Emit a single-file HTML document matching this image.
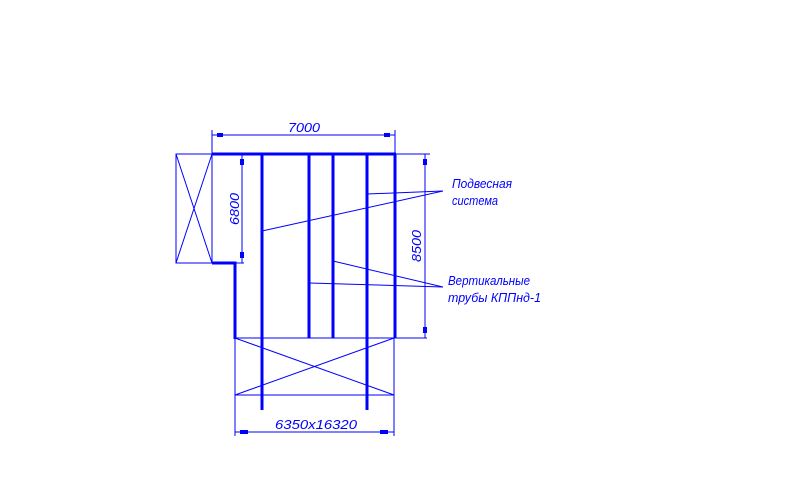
<!DOCTYPE html>
<html><head><meta charset="utf-8"><style>
html,body{margin:0;padding:0;background:#fff;}
svg{display:block}
text{font-family:"Liberation Sans",sans-serif;font-style:italic;fill:#0000ff;font-size:13px;}
</style></head><body>
<svg width="791" height="504" viewBox="0 0 791 504" xmlns="http://www.w3.org/2000/svg">
<g stroke="#0000ff" fill="none" stroke-width="1">
<!-- left box -->
<rect x="176" y="154" width="36" height="109"/>
<line x1="176" y1="154" x2="212" y2="263"/>
<line x1="212" y1="154" x2="176" y2="263"/>
<!-- lower box -->
<line x1="235" y1="338" x2="427" y2="338"/>
<line x1="235" y1="395" x2="394" y2="395"/>
<line x1="235" y1="338" x2="394" y2="395"/>
<line x1="394" y1="338" x2="235" y2="395"/>
<line x1="235" y1="338" x2="235" y2="436"/>
<line x1="394" y1="338" x2="394" y2="436"/>
<!-- top dim -->
<line x1="212" y1="130" x2="212" y2="154"/>
<line x1="395" y1="130" x2="395" y2="154"/>
<line x1="212" y1="135" x2="395" y2="135"/>
<!-- bottom dim -->
<line x1="235" y1="432" x2="394" y2="432"/>
<!-- 6800 -->
<line x1="242" y1="154" x2="242" y2="263"/>
<line x1="212" y1="263" x2="244" y2="263"/>
<!-- 8500 -->
<line x1="395" y1="154" x2="430" y2="154"/>
<line x1="425" y1="154" x2="425" y2="338"/>
<!-- leaders -->
<line x1="443" y1="191" x2="367" y2="194"/>
<line x1="443" y1="191" x2="262" y2="231"/>
<line x1="443" y1="287" x2="333" y2="261"/>
<line x1="443" y1="287" x2="309" y2="283"/>
</g>
<g stroke="#0000ff" stroke-width="3" fill="none">
<line x1="212" y1="154" x2="396" y2="154"/>
<polyline points="212,263 235,263 235,339"/>
<line x1="395" y1="154" x2="395" y2="338"/>
<line x1="262" y1="154" x2="262" y2="410"/>
<line x1="309" y1="154" x2="309" y2="338"/>
<line x1="333" y1="154" x2="333" y2="338"/>
<line x1="367" y1="154" x2="367" y2="410"/>
</g>
<g fill="#0000ff">
<rect x="217" y="133" width="6" height="4"/><rect x="384" y="133" width="6" height="4"/>
<rect x="240" y="432" width="8" height="4" transform="translate(0,-2)"/><rect x="380" y="430" width="8" height="4"/>
<rect x="240" y="159" width="4" height="6"/><rect x="240" y="252" width="4" height="6"/>
<rect x="423" y="159" width="4" height="6"/><rect x="423" y="327" width="4" height="6"/>
</g>
<text x="288" y="132" textLength="32" lengthAdjust="spacingAndGlyphs">7000</text>
<text x="275" y="429" textLength="82" lengthAdjust="spacingAndGlyphs">6350x16320</text>
<text transform="translate(239,225) rotate(-90)" textLength="32" lengthAdjust="spacingAndGlyphs">6800</text>
<text transform="translate(421,262) rotate(-90)" textLength="32" lengthAdjust="spacingAndGlyphs">8500</text>
<text x="452" y="188" textLength="60" lengthAdjust="spacingAndGlyphs">Подвесная</text>
<text x="452" y="205" textLength="46" lengthAdjust="spacingAndGlyphs">система</text>
<text x="448" y="285" textLength="82" lengthAdjust="spacingAndGlyphs">Вертикальные</text>
<text x="448" y="302" textLength="93" lengthAdjust="spacingAndGlyphs">трубы  КППнд-1</text>
</svg>
</body></html>
